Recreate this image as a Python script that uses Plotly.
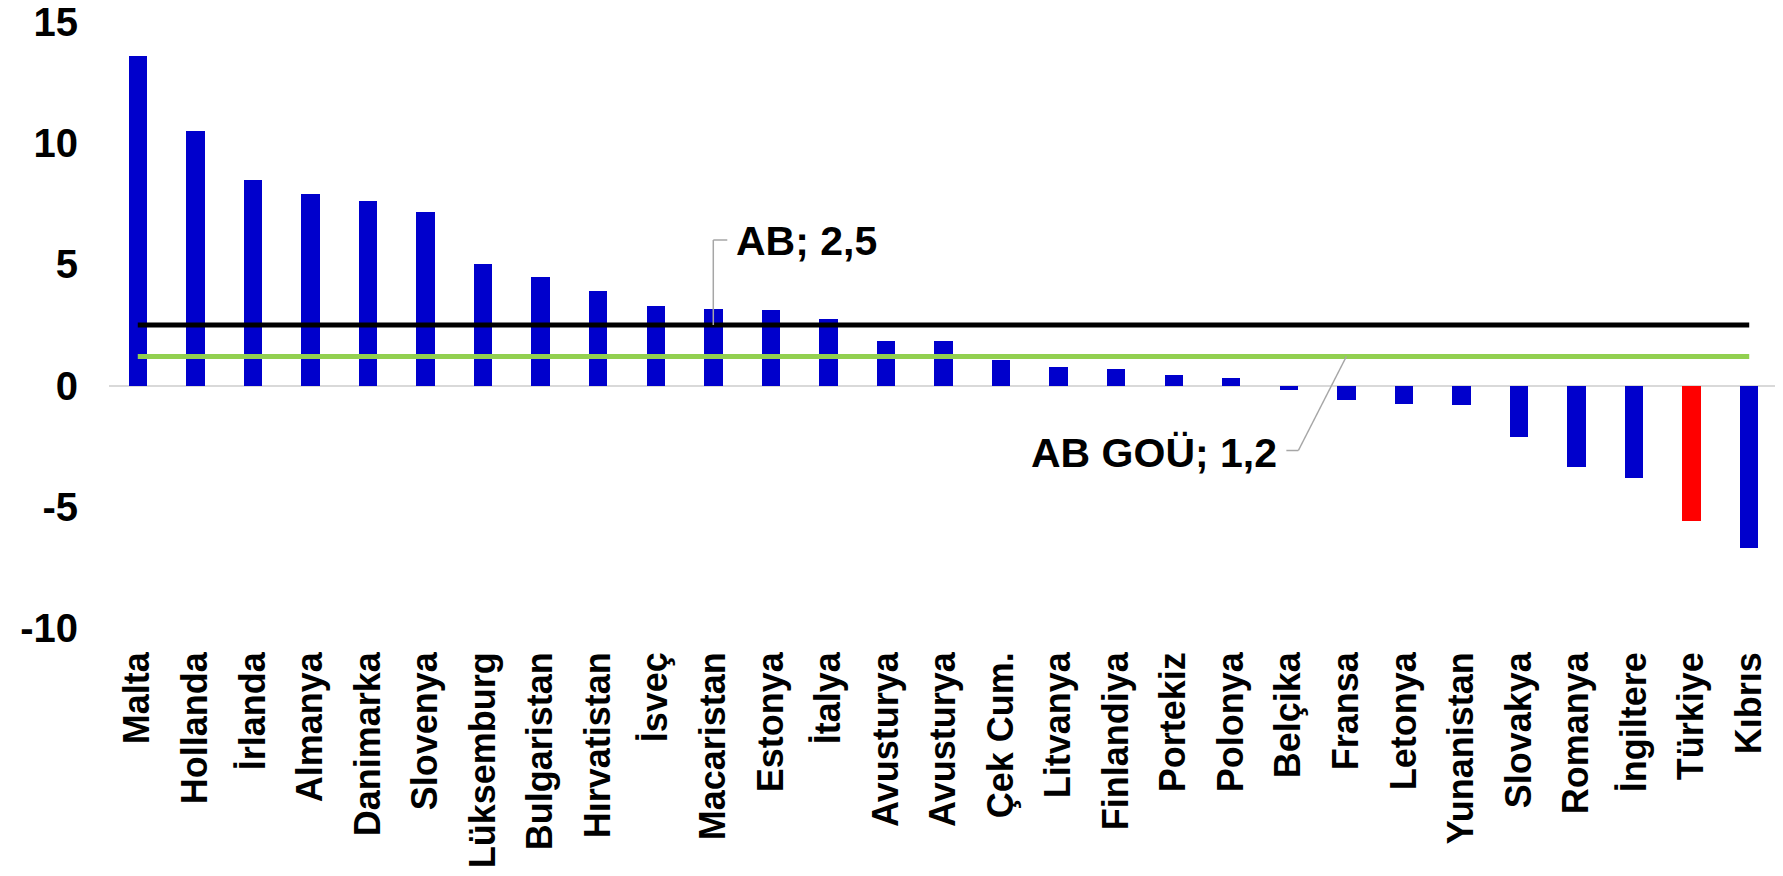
import plotly.graph_objects as go

countries = ["Malta", "Hollanda", "İrlanda", "Almanya", "Danimarka", "Slovenya",
             "Lüksemburg", "Bulgaristan", "Hırvatistan", "İsveç", "Macaristan",
             "Estonya", "İtalya", "Avusturya", "Avusturya", "Çek Cum.", "Litvanya",
             "Finlandiya", "Portekiz", "Polonya", "Belçika", "Fransa", "Letonya",
             "Yunanistan", "Slovakya", "Romanya", "İngiltere", "Türkiye", "Kıbrıs"]
values = [13.6, 10.5, 8.5, 7.9, 7.6, 7.15, 5.0, 4.5, 3.9, 3.3, 3.15, 3.1, 2.75,
          1.85, 1.85, 1.05, 0.75, 0.7, 0.45, 0.3, -0.17, -0.58, -0.77, -0.8,
          -2.1, -3.35, -3.8, -5.6, -6.7]
ab_value = 2.5
ab_gou_value = 1.2
ab_label = "AB; 2,5"
ab_gou_label = "AB GOÜ; 1,2"
highlight = "Türkiye"
y_ticks = [-10, -5, 0, 5, 10, 15]

idx = list(range(len(countries)))
bar_colors = ["#FF0000" if c == highlight else "#0000CC" for c in countries]

FONT = "Liberation Sans, Arial, sans-serif"
LEADER = "#A6A6A6"

fig = go.Figure()
fig.add_trace(go.Bar(x=idx, y=values, marker=dict(color=bar_colors, line=dict(width=0)),
                     width=0.32, showlegend=False, hoverinfo="y"))
fig.add_trace(go.Scatter(x=idx, y=[ab_value] * len(idx), mode="lines",
                         line=dict(color="#000000", width=5), showlegend=False))
fig.add_trace(go.Scatter(x=idx, y=[ab_gou_value] * len(idx), mode="lines",
                         line=dict(color="#92D050", width=5), showlegend=False))

ab_i = countries.index("Macaristan")
gou_i = countries.index("Fransa")

shapes = [
    dict(type="line", xref="x", yref="y", xsizemode="pixel", ysizemode="pixel",
         xanchor=ab_i, yanchor=ab_value, x0=0, x1=0, y0=0, y1=85,
         line=dict(color=LEADER, width=1.5)),
    dict(type="line", xref="x", yref="y", xsizemode="pixel", ysizemode="pixel",
         xanchor=ab_i, yanchor=ab_value, x0=0, x1=14, y0=85, y1=85,
         line=dict(color=LEADER, width=1.5)),
    dict(type="line", xref="x", yref="y", xsizemode="pixel", ysizemode="pixel",
         xanchor=gou_i, yanchor=ab_gou_value, x0=0, x1=-48, y0=0, y1=-94,
         line=dict(color=LEADER, width=1.5)),
    dict(type="line", xref="x", yref="y", xsizemode="pixel", ysizemode="pixel",
         xanchor=gou_i, yanchor=ab_gou_value, x0=-48, x1=-60, y0=-94, y1=-94,
         line=dict(color=LEADER, width=1.5)),
]

annotations = [
    dict(x=ab_i, y=ab_value, xref="x", yref="y", text="<b>%s</b>" % ab_label, showarrow=False,
         xanchor="left", yanchor="middle", xshift=21, yshift=84,
         font=dict(family=FONT, size=41, color="#000000")),
    dict(x=gou_i, y=ab_gou_value, xref="x", yref="y", text="<b>%s</b>" % ab_gou_label,
         showarrow=False, xanchor="right", yanchor="middle", xshift=-67, yshift=-96,
         font=dict(family=FONT, size=41, color="#000000")),
]

# page body has a default 8px margin, so the figure is sized/offset to compensate
fig.update_layout(
    width=1775, height=868,
    margin=dict(l=101, r=5, t=14, b=248),
    paper_bgcolor="white", plot_bgcolor="white",
    font=dict(family=FONT, color="#000000"),
    shapes=shapes, annotations=annotations,
    bargap=0,
)
fig.update_xaxes(
    range=[-0.5, len(countries) - 0.5],
    tickmode="array", tickvals=idx,
    ticktext=["<b>%s</b>" % c for c in countries],
    tickangle=-90, tickfont=dict(family=FONT, size=36, color="#000000"),
    showgrid=False, zeroline=False, showline=False, ticks="",
    ticklabelstandoff=16, ticklabeloverflow="allow", automargin=False,
)
fig.update_yaxes(
    range=[-10, 15], tickmode="array", tickvals=y_ticks,
    ticktext=["<b>%d</b>" % v for v in y_ticks],
    tickfont=dict(family=FONT, size=40, color="#000000"),
    showgrid=False, zeroline=True, zerolinecolor="#D9D9D9", zerolinewidth=2,
    showline=False, ticks="", ticklabelstandoff=30, ticklabeloverflow="allow",
    automargin=False,
)

fig.write_html("out.html")
